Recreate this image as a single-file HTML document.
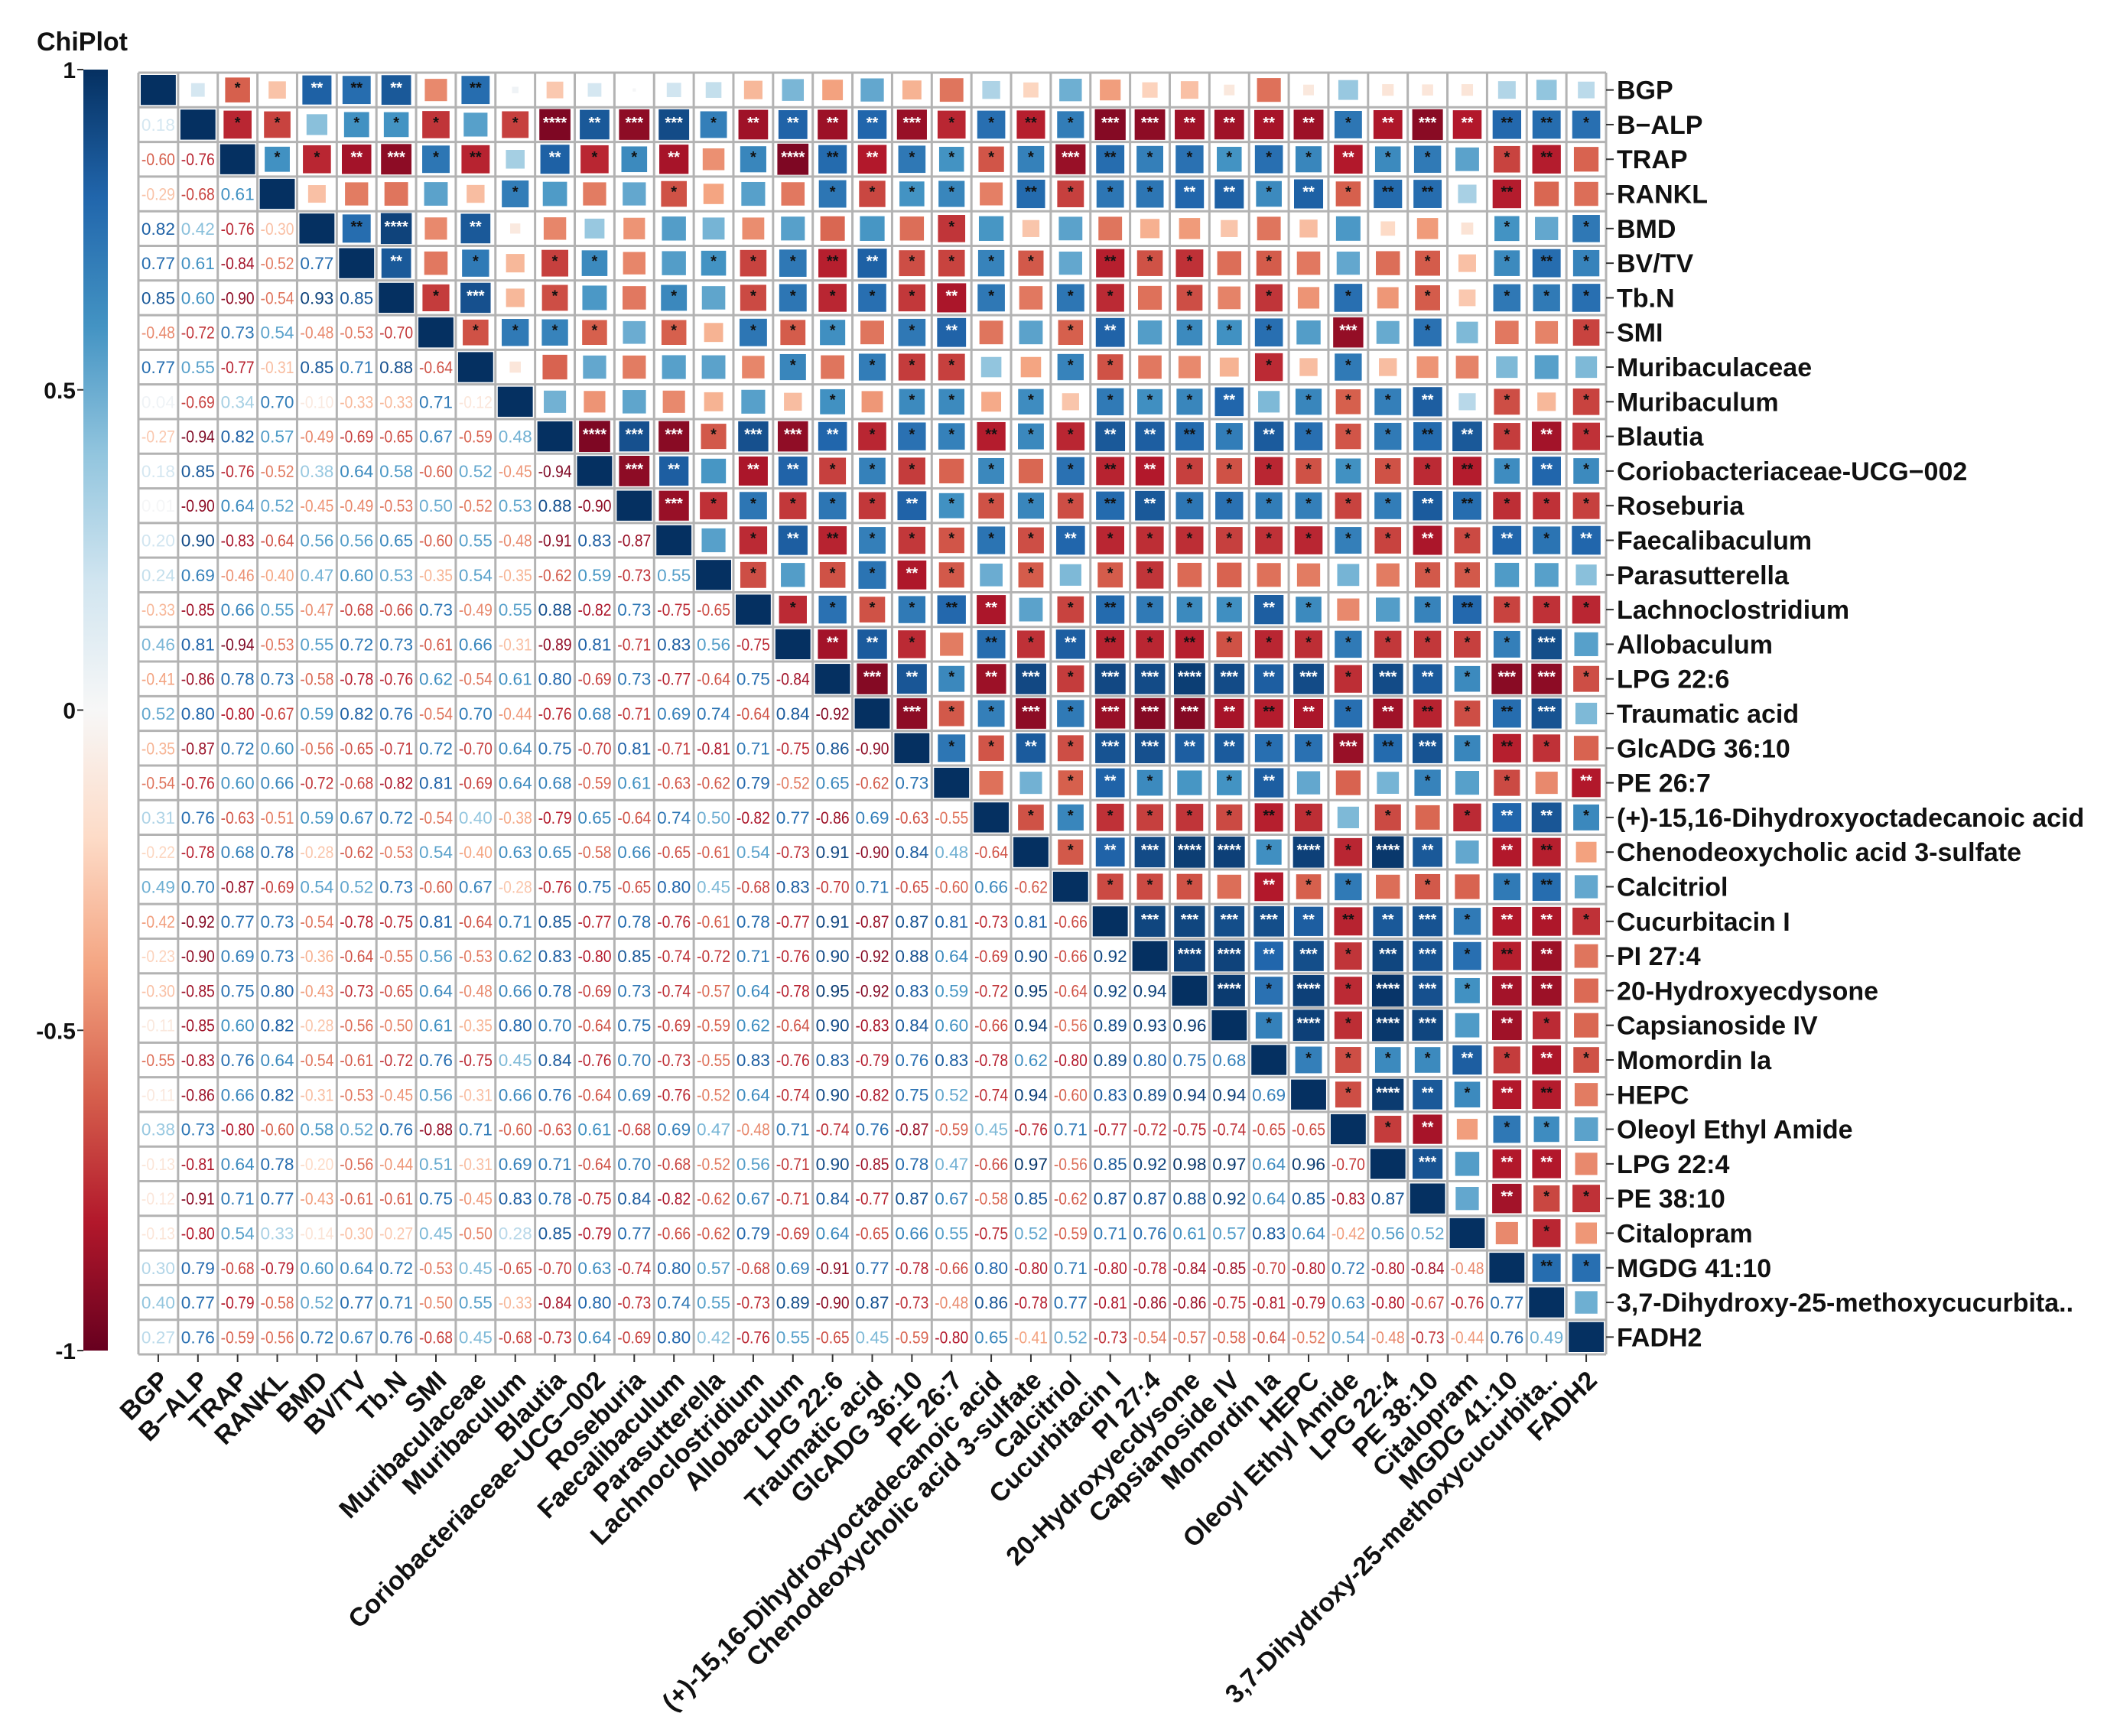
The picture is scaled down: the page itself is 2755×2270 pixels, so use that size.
<!DOCTYPE html>
<html><head><meta charset="utf-8">
<style>
html,body{margin:0;padding:0;background:#fff;}
svg{display:block;font-family:"Liberation Sans",Arial,sans-serif;}
</style></head>
<body>
<svg id="chart" width="2755" height="2270" viewBox="0 0 2755 2270" xmlns="http://www.w3.org/2000/svg">
<defs>
<linearGradient id="cbgrad" x1="0" y1="0" x2="0" y2="1">
<stop offset="0" stop-color="#053061"/><stop offset="0.1" stop-color="#2166ac"/><stop offset="0.2" stop-color="#4393c3"/><stop offset="0.3" stop-color="#92c5de"/><stop offset="0.4" stop-color="#d1e5f0"/><stop offset="0.5" stop-color="#f7f7f7"/><stop offset="0.6" stop-color="#fddbc7"/><stop offset="0.7" stop-color="#f4a582"/><stop offset="0.8" stop-color="#d6604d"/><stop offset="0.9" stop-color="#b2182b"/><stop offset="1" stop-color="#67001f"/>
</linearGradient>
</defs>
<text x="48" y="66" font-size="34" font-weight="bold" fill="#111">ChiPlot</text>
<rect x="109" y="91" width="32" height="1675" fill="url(#cbgrad)"/>
<g id="cbticks"></g>
<g id="grid"></g>
</svg>
<script>
const labels = ["BGP","B-ALP","TRAP","RANKL","BMD","BV/TV","Tb.N","SMI","Muribaculaceae","Muribaculum","Blautia","Coriobacteriaceae-UCG-002","Roseburia","Faecalibaculum","Parasutterella","Lachnoclostridium","Allobaculum","LPG 22:6","Traumatic acid","GlcADG 36:10","PE 26:7","(+)-15,16-Dihydroxyoctadecanoic acid","Chenodeoxycholic acid 3-sulfate","Calcitriol","Cucurbitacin I","PI 27:4","20-Hydroxyecdysone","Capsianoside IV","Momordin Ia","HEPC","Oleoyl Ethyl Amide","LPG 22:4","PE 38:10","Citalopram","MGDG 41:10","3,7-Dihydroxy-25-methoxycucurbita..","FADH2"];
const bottomLabels = labels.map(l => l.replace("B-ALP","B\u2212ALP").replace("UCG-002","UCG\u2212002"));
const rightLabels = labels.map(l => l.replace("B-ALP","B\u2212ALP").replace("UCG-002","UCG\u2212002"));
const colorbarTicks = [1, 0.5, 0, -0.5, -1];
const colorbarTickLabels = ["1","0.5","0","-0.5","-1"];
const lowerRows = [
[],
[0.18],
[-0.60,-0.76],
[-0.29,-0.68,0.61],
[0.82,0.42,-0.76,-0.30],
[0.77,0.61,-0.84,-0.52,0.77],
[0.85,0.60,-0.90,-0.54,0.93,0.85],
[-0.48,-0.72,0.73,0.54,-0.48,-0.53,-0.70],
[0.77,0.55,-0.77,-0.31,0.85,0.71,0.88,-0.64],
[0.04,-0.69,0.34,0.70,-0.10,-0.33,-0.33,0.71,-0.12],
[-0.27,-0.94,0.82,0.57,-0.49,-0.69,-0.65,0.67,-0.59,0.48],
[0.18,0.85,-0.76,-0.52,0.38,0.64,0.58,-0.60,0.52,-0.45,-0.94],
[0.01,-0.90,0.64,0.52,-0.45,-0.49,-0.53,0.50,-0.52,0.53,0.88,-0.90],
[0.20,0.90,-0.83,-0.64,0.56,0.56,0.65,-0.60,0.55,-0.48,-0.91,0.83,-0.87],
[0.24,0.69,-0.46,-0.40,0.47,0.60,0.53,-0.35,0.54,-0.35,-0.62,0.59,-0.73,0.55],
[-0.33,-0.85,0.66,0.55,-0.47,-0.68,-0.66,0.73,-0.49,0.55,0.88,-0.82,0.73,-0.75,-0.65],
[0.46,0.81,-0.94,-0.53,0.55,0.72,0.73,-0.61,0.66,-0.31,-0.89,0.81,-0.71,0.83,0.56,-0.75],
[-0.41,-0.86,0.78,0.73,-0.58,-0.78,-0.76,0.62,-0.54,0.61,0.80,-0.69,0.73,-0.77,-0.64,0.75,-0.84],
[0.52,0.80,-0.80,-0.67,0.59,0.82,0.76,-0.54,0.70,-0.44,-0.76,0.68,-0.71,0.69,0.74,-0.64,0.84,-0.92],
[-0.35,-0.87,0.72,0.60,-0.56,-0.65,-0.71,0.72,-0.70,0.64,0.75,-0.70,0.81,-0.71,-0.81,0.71,-0.75,0.86,-0.90],
[-0.54,-0.76,0.60,0.66,-0.72,-0.68,-0.82,0.81,-0.69,0.64,0.68,-0.59,0.61,-0.63,-0.62,0.79,-0.52,0.65,-0.62,0.73],
[0.31,0.76,-0.63,-0.51,0.59,0.67,0.72,-0.54,0.40,-0.38,-0.79,0.65,-0.64,0.74,0.50,-0.82,0.77,-0.86,0.69,-0.63,-0.55],
[-0.22,-0.78,0.68,0.78,-0.28,-0.62,-0.53,0.54,-0.40,0.63,0.65,-0.58,0.66,-0.65,-0.61,0.54,-0.73,0.91,-0.90,0.84,0.48,-0.64],
[0.49,0.70,-0.87,-0.69,0.54,0.52,0.73,-0.60,0.67,-0.28,-0.76,0.75,-0.65,0.80,0.45,-0.68,0.83,-0.70,0.71,-0.65,-0.60,0.66,-0.62],
[-0.42,-0.92,0.77,0.73,-0.54,-0.78,-0.75,0.81,-0.64,0.71,0.85,-0.77,0.78,-0.76,-0.61,0.78,-0.77,0.91,-0.87,0.87,0.81,-0.73,0.81,-0.66],
[-0.23,-0.90,0.69,0.73,-0.36,-0.64,-0.55,0.56,-0.53,0.62,0.83,-0.80,0.85,-0.74,-0.72,0.71,-0.76,0.90,-0.92,0.88,0.64,-0.69,0.90,-0.66,0.92],
[-0.30,-0.85,0.75,0.80,-0.43,-0.73,-0.65,0.64,-0.48,0.66,0.78,-0.69,0.73,-0.74,-0.57,0.64,-0.78,0.95,-0.92,0.83,0.59,-0.72,0.95,-0.64,0.92,0.94],
[-0.11,-0.85,0.60,0.82,-0.28,-0.56,-0.50,0.61,-0.35,0.80,0.70,-0.64,0.75,-0.69,-0.59,0.62,-0.64,0.90,-0.83,0.84,0.60,-0.66,0.94,-0.56,0.89,0.93,0.96],
[-0.55,-0.83,0.76,0.64,-0.54,-0.61,-0.72,0.76,-0.75,0.45,0.84,-0.76,0.70,-0.73,-0.55,0.83,-0.76,0.83,-0.79,0.76,0.83,-0.78,0.62,-0.80,0.89,0.80,0.75,0.68],
[-0.11,-0.86,0.66,0.82,-0.31,-0.53,-0.45,0.56,-0.31,0.66,0.76,-0.64,0.69,-0.76,-0.52,0.64,-0.74,0.90,-0.82,0.75,0.52,-0.74,0.94,-0.60,0.83,0.89,0.94,0.94,0.69],
[0.38,0.73,-0.80,-0.60,0.58,0.52,0.76,-0.88,0.71,-0.60,-0.63,0.61,-0.68,0.69,0.47,-0.48,0.71,-0.74,0.76,-0.87,-0.59,0.45,-0.76,0.71,-0.77,-0.72,-0.75,-0.74,-0.65,-0.65],
[-0.13,-0.81,0.64,0.78,-0.20,-0.56,-0.44,0.51,-0.31,0.69,0.71,-0.64,0.70,-0.68,-0.52,0.56,-0.71,0.90,-0.85,0.78,0.47,-0.66,0.97,-0.56,0.85,0.92,0.98,0.97,0.64,0.96,-0.70],
[-0.12,-0.91,0.71,0.77,-0.43,-0.61,-0.61,0.75,-0.45,0.83,0.78,-0.75,0.84,-0.82,-0.62,0.67,-0.71,0.84,-0.77,0.87,0.67,-0.58,0.85,-0.62,0.87,0.87,0.88,0.92,0.64,0.85,-0.83,0.87],
[-0.13,-0.80,0.54,0.33,-0.14,-0.30,-0.27,0.45,-0.50,0.28,0.85,-0.79,0.77,-0.66,-0.62,0.79,-0.69,0.64,-0.65,0.66,0.55,-0.75,0.52,-0.59,0.71,0.76,0.61,0.57,0.83,0.64,-0.42,0.56,0.52],
[0.30,0.79,-0.68,-0.79,0.60,0.64,0.72,-0.53,0.45,-0.65,-0.70,0.63,-0.74,0.80,0.57,-0.68,0.69,-0.91,0.77,-0.78,-0.66,0.80,-0.80,0.71,-0.80,-0.78,-0.84,-0.85,-0.70,-0.80,0.72,-0.80,-0.84,-0.48],
[0.40,0.77,-0.79,-0.58,0.52,0.77,0.71,-0.50,0.55,-0.33,-0.84,0.80,-0.73,0.74,0.55,-0.73,0.89,-0.90,0.87,-0.73,-0.48,0.86,-0.78,0.77,-0.81,-0.86,-0.86,-0.75,-0.81,-0.79,0.63,-0.80,-0.67,-0.76,0.77],
[0.27,0.76,-0.59,-0.56,0.72,0.67,0.76,-0.68,0.45,-0.68,-0.73,0.64,-0.69,0.80,0.42,-0.76,0.55,-0.65,0.45,-0.59,-0.80,0.65,-0.41,0.52,-0.73,-0.54,-0.57,-0.58,-0.64,-0.52,0.54,-0.48,-0.73,-0.44,0.76,0.49]
];

const NS = "http://www.w3.org/2000/svg";
const N = labels.length;
const GX0 = 181, GX1 = 2100, GY0 = 95, GY1 = 1771;
const CW = (GX1 - GX0) / N, CH = (GY1 - GY0) / N;
const xPos = i => GX0 + i * CW;
const yPos = i => GY0 + i * CH;
const CB_TOP = 91, CB_BOT = 1766;
const cbScale = v => CB_TOP + (1 - v) / 2 * (CB_BOT - CB_TOP);

const stops = [[-1,[103,0,31]],[-0.8,[178,24,43]],[-0.6,[214,96,77]],[-0.4,[244,165,130]],[-0.2,[253,219,199]],[0,[247,247,247]],[0.2,[209,229,240]],[0.4,[146,197,222]],[0.6,[67,147,195]],[0.8,[33,102,172]],[1,[5,48,97]]];
function color(v){
  v = Math.max(-1, Math.min(1, v));
  for (let k = 0; k < stops.length - 1; k++) {
    const [a, ca] = stops[k], [b, cb] = stops[k+1];
    if (v >= a && v <= b) {
      const t = (v - a) / (b - a);
      const c = ca.map((x, j) => Math.round(x + (cb[j] - x) * t));
      return `rgb(${c[0]},${c[1]},${c[2]})`;
    }
  }
  return "#053061";
}
function r(i, j){ if (i === j) return 1; return i > j ? lowerRows[i][j] : lowerRows[j][i]; }
function stars(v){ const a = Math.abs(v); if (a >= 0.93) return "****"; if (a >= 0.87) return "***"; if (a >= 0.77) return "**"; if (a >= 0.6) return "*"; return ""; }
function mk(tag, attrs, parent){ const e = document.createElementNS(NS, tag); for (const k in attrs) e.setAttribute(k, attrs[k]); parent.appendChild(e); return e; }

const svg = document.getElementById("chart");
const cbt = document.getElementById("cbticks");
colorbarTicks.forEach((v, k) => {
  const y = cbScale(v);
  const tl = mk("line", {x1: 101, x2: 109, y1: y, y2: y, stroke: "#333", "stroke-width": 2}, cbt);
  
  
  const t = mk("text", {x: 99, y: y + 11, "text-anchor": "end", "font-size": 30, "font-weight": "bold", fill: "#111"}, cbt);
  t.textContent = colorbarTickLabels[k];
  
  
});

const g = document.getElementById("grid");
const bg = mk("rect", {x: GX0, y: GY0, width: GX1 - GX0, height: GY1 - GY0, fill: "#fff"}, g);



for (let i = 0; i < N; i++) {
  for (let j = 0; j < N; j++) {
    const v = r(i, j);
    const x = xPos(j), y = yPos(i), cx = x + CW / 2, cy = y + CH / 2;
    if (i === j) {
      const d = mk("rect", {x: x + 3, y: y + 3, width: CW - 6, height: CH - 6, fill: color(1)}, g);
      
      
    } else if (j > i) {
      const s = 42 * Math.sqrt(Math.abs(v));
      const sq = mk("rect", {x: cx - s / 2, y: cy - s / 2, width: s, height: s, fill: color(v)}, g);
      
      
      const st = stars(v);
      if (st) {
        const t = mk("text", {x: cx, y: cy + 4, "text-anchor": "middle", "font-size": 20, "font-weight": "bold", fill: Math.abs(v) >= 0.8 ? "#fff" : "#111"}, g);
        t.textContent = st;
        
        
      }
    } else {
      const t = mk("text", {x: cx, y: cy + 8, "text-anchor": "middle", "font-size": 22, fill: color(v), textLength: 44, lengthAdjust: "spacingAndGlyphs"}, g);
      t.textContent = v.toFixed(2);
      
      
    }
  }
}
for (let k = 0; k <= N; k++) {
  const lv = mk("line", {x1: xPos(k), x2: xPos(k), y1: GY0, y2: GY1, stroke: "#b3b3b3", "stroke-width": 3}, g);
  
  
  const lh = mk("line", {x1: GX0, x2: GX1, y1: yPos(k), y2: yPos(k), stroke: "#b3b3b3", "stroke-width": 3}, g);
  
  
}
for (let k = 0; k < N; k++) {
  const cy = yPos(k) + CH / 2, cx = xPos(k) + CW / 2;
  const rt = mk("line", {x1: GX1, x2: GX1 + 10, y1: cy, y2: cy, stroke: "#333", "stroke-width": 2}, g);
  
  
  const rl = mk("text", {x: GX1 + 14, y: cy + 12, "font-size": 34, "font-weight": "bold", fill: "#111"}, g);
  rl.textContent = rightLabels[k];
  
  
  const bt = mk("line", {x1: cx, x2: cx, y1: GY1, y2: GY1 + 10, stroke: "#333", "stroke-width": 2}, g);
  
  
  const ax = cx + 16, ay = GY1 + 36;
  const bl = mk("text", {x: ax, y: ay, "text-anchor": "end", "font-size": 34, "font-weight": "bold", fill: "#111", transform: `rotate(-45 ${ax} ${ay})`}, g);
  bl.textContent = bottomLabels[k];
  
  
}
</script>
</body></html>
